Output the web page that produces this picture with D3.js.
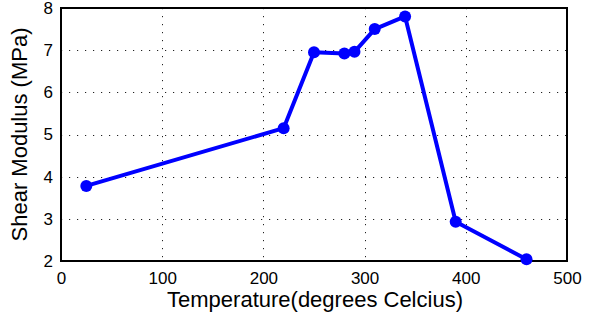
<!DOCTYPE html>
<html>
<head>
<meta charset="utf-8">
<script src="https://cdn.jsdelivr.net/npm/d3@7"></script>
<style>
  body { margin: 0; background: #fff; }
  svg { font-family: "Liberation Sans", Arial, sans-serif; }
</style>
</head>
<body>
<svg id="canvas"></svg>
<script>
// data
const temps = [25, 220, 250, 280, 290, 310, 340, 390, 460];
const modulus = [3.78, 5.15, 6.95, 6.92, 6.96, 7.5, 7.8, 2.93, 2.04];
const xTicks = [0, 100, 200, 300, 400, 500];
const yTicks = [2, 3, 4, 5, 6, 7, 8];

const width = 599,
  height = 320,
  margin = { left: 61, right: 32, top: 8, bottom: 59 };

const canvas = d3.select("#canvas").attr("width", width).attr("height", height);

const xScale = d3.scaleLinear().domain([0, 500]).range([margin.left, width - margin.right]);
const yScale = d3.scaleLinear().domain([2, 8]).range([height - margin.bottom, margin.top]);

// dotted grid
const grid = canvas.append("g").attr("stroke", "#222").attr("stroke-width", 1).attr("stroke-dasharray", "1.2,6.8");
grid.selectAll(".gx")
  .data(xTicks.slice(1, -1))
  .join("line")
  .attr("x1", (d) => Math.round(xScale(d)) + 0.5)
  .attr("x2", (d) => Math.round(xScale(d)) + 0.5)
  .attr("y1", yScale(8))
  .attr("y2", yScale(2));
grid.selectAll(".gy")
  .data(yTicks.slice(1, -1))
  .join("line")
  .attr("y1", (d) => Math.round(yScale(d)) + 0.5)
  .attr("y2", (d) => Math.round(yScale(d)) + 0.5)
  .attr("x1", xScale(0))
  .attr("x2", xScale(500));

// axes
const xAxis = d3.axisBottom(xScale).tickValues(xTicks).tickSize(0).tickPadding(11).tickFormat(d3.format("d"));
const yAxis = d3.axisLeft(yScale).tickValues(yTicks).tickSize(0).tickPadding(8).tickFormat(d3.format("d"));

canvas.append("g")
  .attr("transform", `translate(0, ${height - margin.bottom})`)
  .call(xAxis)
  .call((g) => g.select(".domain").remove())
  .selectAll("text").attr("font-size", 17).attr("fill", "#000");

canvas.append("g")
  .attr("transform", `translate(${margin.left}, 0)`)
  .call(yAxis)
  .call((g) => g.select(".domain").remove())
  .selectAll("text").attr("font-size", 17).attr("fill", "#000");

// frame
canvas.append("rect")
  .attr("x", xScale(0))
  .attr("y", yScale(8))
  .attr("width", xScale(500) - xScale(0))
  .attr("height", yScale(2) - yScale(8))
  .attr("fill", "none")
  .attr("stroke", "#000")
  .attr("stroke-width", 2);

// series
const pts = temps.map((t, i) => [t, modulus[i]]);
const line = d3.line().x((d) => xScale(d[0])).y((d) => yScale(d[1]));

canvas.append("path")
  .datum(pts)
  .attr("d", line)
  .attr("fill", "none")
  .attr("stroke", "#0000ff")
  .attr("stroke-width", 4)
  .attr("stroke-linejoin", "round");

canvas.append("g")
  .selectAll("circle")
  .data(pts)
  .join("circle")
  .attr("cx", (d) => xScale(d[0]))
  .attr("cy", (d) => yScale(d[1]))
  .attr("r", 6)
  .attr("fill", "#0000ff");

// labels
canvas.append("text")
  .attr("x", (xScale(0) + xScale(500)) / 2 + 1)
  .attr("y", 307)
  .attr("text-anchor", "middle")
  .attr("font-size", 22)
  .text("Temperature(degrees Celcius)");

canvas.append("text")
  .attr("transform", `translate(27, ${(yScale(2) + yScale(8)) / 2}) rotate(-90)`)
  .attr("text-anchor", "middle")
  .attr("font-size", 22)
  .text("Shear Modulus (MPa)");
</script>
</body>
</html>
